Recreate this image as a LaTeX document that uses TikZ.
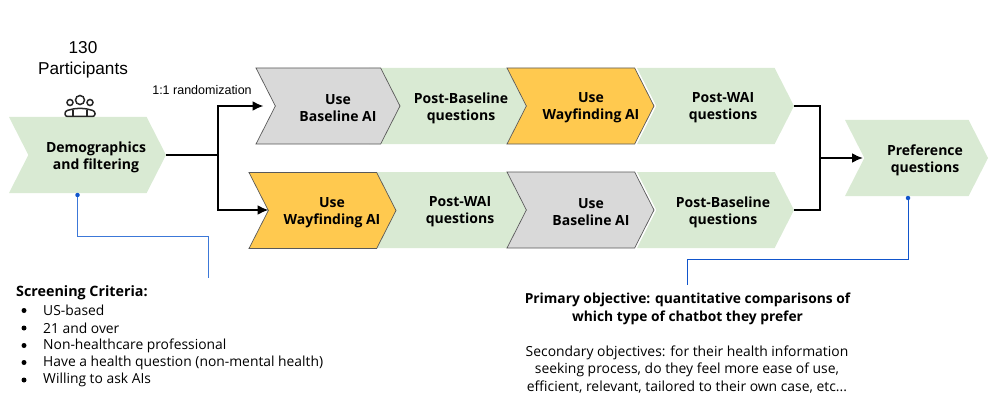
\documentclass[tikz,border=0pt]{standalone}
\usepackage{fontspec}
\setmainfont{Open Sans}
\newfontfamily\arialfont{Liberation Sans}
\usetikzlibrary{positioning}
\usetikzlibrary{shapes.symbols}
\usetikzlibrary{arrows.meta}

\definecolor{stepgreen}{HTML}{D9EAD3}
\definecolor{stepgray}{HTML}{D9D9D9}
\definecolor{steporange}{HTML}{FFC94F}
\definecolor{noteblue}{HTML}{3C78D8}
\definecolor{dotblue}{HTML}{1155CC}

\tikzset{
	chevron/.style={signal, signal from=west, signal to=east, signal pointer angle=126, minimum height=76pt, inner sep=0pt, outer sep=0pt, anchor=east},
	greenstep/.style={chevron, fill=stepgreen},
	graystep/.style={chevron, fill=stepgray, draw=black!65, line width=0.7pt},
	orangestep/.style={chevron, fill=steporange, draw=black!65, line width=0.7pt},
	steplabel/.style={align=center, font=\fontsize{14}{17}\selectfont\bfseries, inner sep=0pt},
	flow/.style={line width=2pt},
	flowarrow/.style={flow, -{Latex[length=11pt, width=10pt]}},
	noteline/.style={noteblue, line width=1pt},
	notedot/.style={circle, fill=dotblue, inner sep=0pt, minimum size=4.5pt},
	notetext/.style={align=center, font=\fontsize{13.9}{17.3}\selectfont, inner sep=0pt},
	iconline/.style={line width=1.5pt, black!85}
}

\begin{document}
\begin{tikzpicture}[x=1pt, y=-1pt]
		\useasboundingbox (0,0) rectangle (997,420);
		% green steps
		\node[greenstep, minimum width=157pt] (demo) at (166,155) {};
		\node[greenstep, minimum width=157pt] (postbase1) at (526,106) {};
		\node[greenstep, minimum width=157pt] (postwai1) at (794,106) {};
		\node[greenstep, minimum width=157pt] (postwai2) at (526,210) {};
		\node[greenstep, minimum width=157pt] (postbase2) at (794,210) {};
		\node[greenstep, minimum width=143pt] (pref) at (988,158) {};
		% use steps
		\node[graystep, minimum width=144pt] (base1) at (400,106) {};
		\node[orangestep, minimum width=147pt] (way1) at (654,106) {};
		\node[orangestep, minimum width=147pt] (way2) at (396,210.5) {};
		\node[graystep, minimum width=147pt] (base2) at (654,210) {};
		% step labels
		\node[steplabel] (demotext) at (96,157) {Demographics\\and filtering};
		\node[steplabel] (base1text) at (338,108) {Use\\Baseline AI};
		\node[steplabel] (postbase1text) at (461,108) {Post-Baseline\\questions};
		\node[steplabel] (way1text) at (591,108) {Use\\Wayfinding AI};
		\node[steplabel] (postwai1text) at (723,108) {Post-WAI\\questions};
		\node[steplabel] (way2text) at (332,213) {Use\\Wayfinding AI};
		\node[steplabel] (postwai2text) at (460,212) {Post-WAI\\questions};
		\node[steplabel] (base2text) at (591,212) {Use\\Baseline AI};
		\node[steplabel] (postbase2text) at (723,212) {Post-Baseline\\questions};
		\node[steplabel] (preftext) at (925,160) {Preference\\questions};
		% top left texts
		\node[align=center, inner sep=0pt, font=\arialfont\fontsize{17.2}{21}\selectfont] (count) at (83,60) {130\\Participants};
		\node[inner sep=0pt, font=\arialfont\fontsize{12.5}{14}\selectfont] (random) at (202,90.5) {1:1 randomization};
		% participants icon
		\draw[iconline] (80,100) circle (4.5pt) (70,102.5) circle (3pt) (90,102.5) circle (3pt);
		\draw[iconline, rounded corners=2.5pt] (65,116.5) -- (65,111) -- (75,108.5) -- (85,108.5) -- (95,111) -- (95,116.5) -- cycle;
		\draw[iconline] (73,116.5) -- (73,110) (87,116.5) -- (87,110);
		% flow connectors
		\coordinate (split) at (218,155);
		\coordinate (base1in) at (263.5,106);
		\coordinate (way2in) at (268.5,210);
		\coordinate (join) at (819.5,158);
		\coordinate (prefin) at (863,158);
		\draw[flow] (demo.east) -- (split);
		\draw[flowarrow] (split) |- (base1in);
		\draw[flowarrow] (split) |- (way2in);
		\draw[flow] (postwai1.east) -| (join) |- (postbase2.east);
		\draw[flowarrow] (join) -- (prefin);
		% notes
		\node[notedot] (demodot) at (77.5,195) {};
		\node[notedot] (prefdot) at (908,198) {};
		\coordinate (screenend) at (208.5,278);
		\coordinate (objend) at (687,285);
		\draw[noteline] (demodot) |- (screenend |- 0,236.5) -- (screenend);
		\draw[noteline, dotblue] (prefdot) |- (objend |- 0,259.5) -- (objend);
		% screening criteria
		\node[anchor=west, inner sep=0pt, font=\fontsize{14.3}{16}\selectfont\bfseries] (screen) at (16,293) {Screening Criteria:};
		\foreach \row/\y/\crit in {a/310.5/US-based, b/328/21 and over, c/345.5/Non-healthcare professional, d/362.5/Have a health question (non-mental health), e/380/Willing to ask AIs}{
			\node[circle, fill=black, inner sep=0pt, minimum size=5pt] (bullet\row) at (24,\y) {};
			\node[anchor=west, inner sep=0pt, font=\fontsize{13.85}{16}\selectfont] (crit\row) at (43,\y) {\crit};
		}
		% objectives
		\node[notetext, font=\fontsize{13.8}{17.3}\selectfont\bfseries] (primary) at (687.5,309) {Primary objective: quantitative comparisons of\\which type of chatbot they prefer};
		\node[notetext] (secondary) at (687,369.5) {Secondary objectives: for their health information\\seeking process, do they feel more ease of use,\\efficient, relevant, tailored to their own case, etc...};
	\end{tikzpicture}
\end{document}
